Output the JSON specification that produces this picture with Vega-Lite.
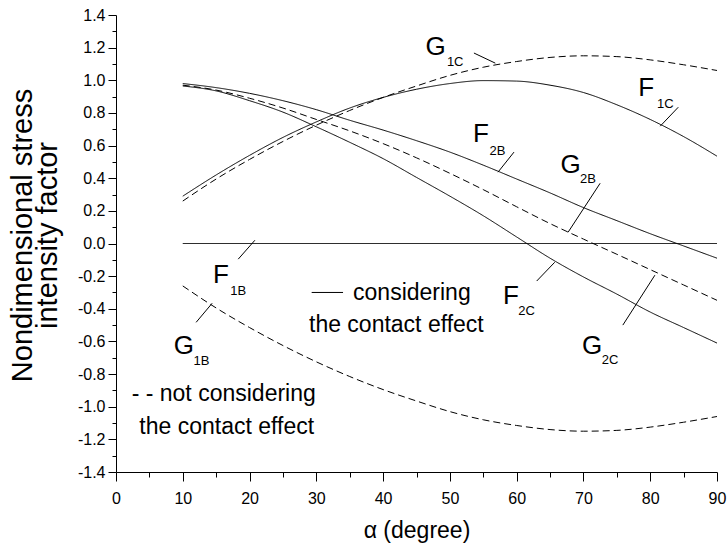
{
  "$schema": "https://vega.github.io/schema/vega-lite/v6.json",
  "width": 601,
  "height": 457,
  "autosize": {"type": "none"},
  "padding": {"left": 116, "top": 15, "right": 11, "bottom": 77},
  "background": "white",
  "config": {
    "view": {"stroke": null},
    "font": "Liberation Sans",
    "axis": {
      "grid": false,
      "domainColor": "black",
      "domainWidth": 1,
      "tickColor": "black",
      "tickWidth": 1,
      "labelColor": "black",
      "titleColor": "black",
      "labelFont": "Liberation Sans",
      "titleFont": "Liberation Sans",
      "labelFontSize": 16,
      "titleFontWeight": "normal",
      "labelOverlap": false
    }
  },
  "datasets": {
    "curves": [
      {"s": "F1C", "style": "solid", "x": 10, "y": 0.29},
      {"s": "F1C", "style": "solid", "x": 15, "y": 0.42},
      {"s": "F1C", "style": "solid", "x": 20, "y": 0.54},
      {"s": "F1C", "style": "solid", "x": 25, "y": 0.65},
      {"s": "F1C", "style": "solid", "x": 30, "y": 0.745},
      {"s": "F1C", "style": "solid", "x": 35, "y": 0.83},
      {"s": "F1C", "style": "solid", "x": 40, "y": 0.895},
      {"s": "F1C", "style": "solid", "x": 45, "y": 0.945},
      {"s": "F1C", "style": "solid", "x": 50, "y": 0.98},
      {"s": "F1C", "style": "solid", "x": 55, "y": 0.998},
      {"s": "F1C", "style": "solid", "x": 60, "y": 0.995},
      {"s": "F1C", "style": "solid", "x": 65, "y": 0.97},
      {"s": "F1C", "style": "solid", "x": 70, "y": 0.925},
      {"s": "F1C", "style": "solid", "x": 75, "y": 0.85},
      {"s": "F1C", "style": "solid", "x": 80, "y": 0.76},
      {"s": "F1C", "style": "solid", "x": 85, "y": 0.655},
      {"s": "F1C", "style": "solid", "x": 90, "y": 0.535},

      {"s": "G1C", "style": "dashed", "x": 10, "y": 0.26},
      {"s": "G1C", "style": "dashed", "x": 15, "y": 0.395},
      {"s": "G1C", "style": "dashed", "x": 20, "y": 0.515},
      {"s": "G1C", "style": "dashed", "x": 25, "y": 0.625},
      {"s": "G1C", "style": "dashed", "x": 30, "y": 0.725},
      {"s": "G1C", "style": "dashed", "x": 35, "y": 0.815},
      {"s": "G1C", "style": "dashed", "x": 40, "y": 0.895},
      {"s": "G1C", "style": "dashed", "x": 45, "y": 0.965},
      {"s": "G1C", "style": "dashed", "x": 50, "y": 1.03},
      {"s": "G1C", "style": "dashed", "x": 55, "y": 1.08},
      {"s": "G1C", "style": "dashed", "x": 60, "y": 1.115},
      {"s": "G1C", "style": "dashed", "x": 65, "y": 1.14},
      {"s": "G1C", "style": "dashed", "x": 70, "y": 1.15},
      {"s": "G1C", "style": "dashed", "x": 75, "y": 1.145},
      {"s": "G1C", "style": "dashed", "x": 80, "y": 1.125},
      {"s": "G1C", "style": "dashed", "x": 85, "y": 1.095},
      {"s": "G1C", "style": "dashed", "x": 90, "y": 1.06},

      {"s": "G1B", "style": "dashed", "x": 10, "y": -0.26},
      {"s": "G1B", "style": "dashed", "x": 15, "y": -0.395},
      {"s": "G1B", "style": "dashed", "x": 20, "y": -0.515},
      {"s": "G1B", "style": "dashed", "x": 25, "y": -0.625},
      {"s": "G1B", "style": "dashed", "x": 30, "y": -0.725},
      {"s": "G1B", "style": "dashed", "x": 35, "y": -0.815},
      {"s": "G1B", "style": "dashed", "x": 40, "y": -0.895},
      {"s": "G1B", "style": "dashed", "x": 45, "y": -0.965},
      {"s": "G1B", "style": "dashed", "x": 50, "y": -1.03},
      {"s": "G1B", "style": "dashed", "x": 55, "y": -1.08},
      {"s": "G1B", "style": "dashed", "x": 60, "y": -1.115},
      {"s": "G1B", "style": "dashed", "x": 65, "y": -1.14},
      {"s": "G1B", "style": "dashed", "x": 70, "y": -1.15},
      {"s": "G1B", "style": "dashed", "x": 75, "y": -1.145},
      {"s": "G1B", "style": "dashed", "x": 80, "y": -1.125},
      {"s": "G1B", "style": "dashed", "x": 85, "y": -1.095},
      {"s": "G1B", "style": "dashed", "x": 90, "y": -1.06},

      {"s": "F1B", "style": "solid", "x": 10, "y": 0},
      {"s": "F1B", "style": "solid", "x": 90, "y": 0},

      {"s": "F2B", "style": "solid", "x": 10, "y": 0.98},
      {"s": "F2B", "style": "solid", "x": 15, "y": 0.955},
      {"s": "F2B", "style": "solid", "x": 20, "y": 0.92},
      {"s": "F2B", "style": "solid", "x": 25, "y": 0.875},
      {"s": "F2B", "style": "solid", "x": 30, "y": 0.82},
      {"s": "F2B", "style": "solid", "x": 35, "y": 0.755},
      {"s": "F2B", "style": "solid", "x": 40, "y": 0.695},
      {"s": "F2B", "style": "solid", "x": 45, "y": 0.63},
      {"s": "F2B", "style": "solid", "x": 50, "y": 0.56},
      {"s": "F2B", "style": "solid", "x": 55, "y": 0.48},
      {"s": "F2B", "style": "solid", "x": 60, "y": 0.395},
      {"s": "F2B", "style": "solid", "x": 65, "y": 0.31},
      {"s": "F2B", "style": "solid", "x": 70, "y": 0.22},
      {"s": "F2B", "style": "solid", "x": 75, "y": 0.14},
      {"s": "F2B", "style": "solid", "x": 80, "y": 0.06},
      {"s": "F2B", "style": "solid", "x": 85, "y": -0.015},
      {"s": "F2B", "style": "solid", "x": 90, "y": -0.09},

      {"s": "G2", "style": "dashed", "x": 10, "y": 0.97},
      {"s": "G2", "style": "dashed", "x": 15, "y": 0.94},
      {"s": "G2", "style": "dashed", "x": 20, "y": 0.89},
      {"s": "G2", "style": "dashed", "x": 25, "y": 0.83},
      {"s": "G2", "style": "dashed", "x": 30, "y": 0.76},
      {"s": "G2", "style": "dashed", "x": 35, "y": 0.69},
      {"s": "G2", "style": "dashed", "x": 40, "y": 0.612},
      {"s": "G2", "style": "dashed", "x": 45, "y": 0.525},
      {"s": "G2", "style": "dashed", "x": 50, "y": 0.43},
      {"s": "G2", "style": "dashed", "x": 55, "y": 0.33},
      {"s": "G2", "style": "dashed", "x": 60, "y": 0.225},
      {"s": "G2", "style": "dashed", "x": 65, "y": 0.122},
      {"s": "G2", "style": "dashed", "x": 70, "y": 0.027},
      {"s": "G2", "style": "dashed", "x": 75, "y": -0.066},
      {"s": "G2", "style": "dashed", "x": 80, "y": -0.16},
      {"s": "G2", "style": "dashed", "x": 85, "y": -0.254},
      {"s": "G2", "style": "dashed", "x": 90, "y": -0.348},

      {"s": "F2C", "style": "solid", "x": 10, "y": 0.965},
      {"s": "F2C", "style": "solid", "x": 15, "y": 0.935},
      {"s": "F2C", "style": "solid", "x": 20, "y": 0.875},
      {"s": "F2C", "style": "solid", "x": 25, "y": 0.805},
      {"s": "F2C", "style": "solid", "x": 30, "y": 0.715},
      {"s": "F2C", "style": "solid", "x": 35, "y": 0.62},
      {"s": "F2C", "style": "solid", "x": 40, "y": 0.52},
      {"s": "F2C", "style": "solid", "x": 45, "y": 0.405},
      {"s": "F2C", "style": "solid", "x": 50, "y": 0.29},
      {"s": "F2C", "style": "solid", "x": 55, "y": 0.17},
      {"s": "F2C", "style": "solid", "x": 60, "y": 0.04},
      {"s": "F2C", "style": "solid", "x": 65, "y": -0.09},
      {"s": "F2C", "style": "solid", "x": 70, "y": -0.205},
      {"s": "F2C", "style": "solid", "x": 75, "y": -0.31},
      {"s": "F2C", "style": "solid", "x": 80, "y": -0.42},
      {"s": "F2C", "style": "solid", "x": 85, "y": -0.515},
      {"s": "F2C", "style": "solid", "x": 90, "y": -0.61}
    ],
    "pointers": [
      {"x": 53.6, "y": 1.167, "x2": 56.8, "y2": 1.105},
      {"x": 84.2, "y": 0.835, "x2": 81.5, "y2": 0.719},
      {"x": 59.6, "y": 0.56, "x2": 57.2, "y2": 0.437},
      {"x": 72.5, "y": 0.369, "x2": 67.7, "y2": 0.069},
      {"x": 63.0, "y": -0.23, "x2": 65.7, "y2": -0.115},
      {"x": 75.9, "y": -0.5, "x2": 80.7, "y2": -0.194},
      {"x": 18.3, "y": -0.096, "x2": 20.8, "y2": 0.02},
      {"x": 12.0, "y": -0.483, "x2": 14.4, "y2": -0.366},
      {"x": 29.3, "y": -0.3, "x2": 34.0, "y2": -0.3}
    ],
    "mains": [
      {"t": "G", "x": 46.33, "y": 1.155},
      {"t": "F", "x": 78.2, "y": 0.903},
      {"t": "F", "x": 53.46, "y": 0.623},
      {"t": "G", "x": 66.55, "y": 0.429},
      {"t": "F", "x": 57.95, "y": -0.368},
      {"t": "G", "x": 69.78, "y": -0.674},
      {"t": "F", "x": 14.53, "y": -0.245},
      {"t": "G", "x": 8.64, "y": -0.674}
    ],
    "subs": [
      {"t": "1C", "x": 49.55, "y": 1.089},
      {"t": "1C", "x": 81.0, "y": 0.828},
      {"t": "2B", "x": 55.93, "y": 0.541},
      {"t": "2B", "x": 69.48, "y": 0.368},
      {"t": "2C", "x": 60.24, "y": -0.44},
      {"t": "2C", "x": 72.73, "y": -0.736},
      {"t": "1B", "x": 17.1, "y": -0.317},
      {"t": "1B", "x": 11.62, "y": -0.746}
    ],
    "legend": [
      {"t": "considering", "x": 35.5, "y": -0.348},
      {"t": "the contact effect", "x": 28.9, "y": -0.544},
      {"t": "- - not considering", "x": 2.35, "y": -0.964},
      {"t": "the contact effect", "x": 3.5, "y": -1.165}
    ]
  },
  "encoding": {
    "x": {
      "field": "x",
      "type": "quantitative",
      "scale": {"domain": [0, 90], "nice": false, "zero": false},
      "axis": {
        "title": "α (degree)",
        "titleFontSize": 23,
        "titleY": 47,
        "values": [0, 5, 10, 15, 20, 25, 30, 35, 40, 45, 50, 55, 60, 65, 70, 75, 80, 85, 90],
        "labelExpr": "datum.value % 10 == 0 ? datum.label : ''",
        "tickSize": {"condition": {"test": "datum.value % 10 == 0", "value": 9}, "value": 5},
        "labelPadding": 9,
        "labelFlush": false
      }
    },
    "y": {
      "field": "y",
      "type": "quantitative",
      "scale": {"domain": [-1.4, 1.4], "nice": false, "zero": false},
      "axis": {
        "title": ["Nondimensional stress", "intensity factor"],
        "titleFontSize": 29,
        "titleLineHeight": 25,
        "titleX": -79,
        "titleY": 220,
        "values": [-1.4, -1.3, -1.2, -1.1, -1.0, -0.9, -0.8, -0.7, -0.6, -0.5, -0.4, -0.3, -0.2, -0.1, 0, 0.1, 0.2, 0.3, 0.4, 0.5, 0.6, 0.7, 0.8, 0.9, 1.0, 1.1, 1.2, 1.3, 1.4],
        "labelExpr": "abs(round(datum.value * 10)) % 2 == 0 ? replace(format(datum.value, '.1f'), '\u2212', '-') : ''",
        "tickSize": {"condition": {"test": "abs(round(datum.value * 10)) % 2 == 0", "value": 8}, "value": 4},
        "labelPadding": 3
      }
    }
  },
  "layer": [
    {
      "data": {"name": "curves"},
      "mark": {"type": "line", "color": "black", "strokeWidth": 1, "interpolate": "monotone"},
      "encoding": {
        "detail": {"field": "s"},
        "strokeDash": {
          "field": "style",
          "type": "nominal",
          "scale": {"domain": ["solid", "dashed"], "range": [[1, 0], [7, 4]]},
          "legend": null
        }
      }
    },
    {
      "data": {"name": "pointers"},
      "mark": {"type": "rule", "color": "black", "strokeWidth": 1},
      "encoding": {
        "x2": {"field": "x2"},
        "y2": {"field": "y2"}
      }
    },
    {
      "data": {"name": "mains"},
      "mark": {"type": "text", "align": "left", "baseline": "alphabetic", "fontSize": 26, "font": "Liberation Sans", "color": "black"},
      "encoding": {"text": {"field": "t"}}
    },
    {
      "data": {"name": "subs"},
      "mark": {"type": "text", "align": "left", "baseline": "alphabetic", "fontSize": 13, "font": "Liberation Sans", "color": "black"},
      "encoding": {"text": {"field": "t"}}
    },
    {
      "data": {"name": "legend"},
      "mark": {"type": "text", "align": "left", "baseline": "alphabetic", "fontSize": 23, "font": "Liberation Sans", "color": "black"},
      "encoding": {"text": {"field": "t"}}
    }
  ]
}
